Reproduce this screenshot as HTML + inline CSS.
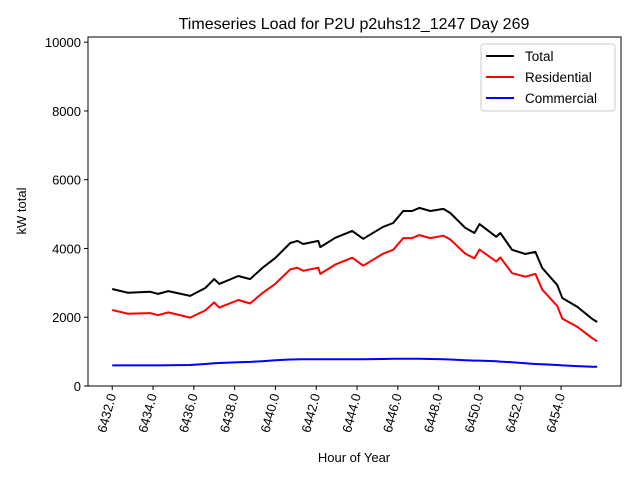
<!DOCTYPE html>
<html><head><meta charset="utf-8"><style>
body{margin:0;background:#fff;}
svg{display:block;font-family:"Liberation Sans","DejaVu Sans",sans-serif;}
</style></head><body>
<svg id="chart" width="640" height="480" viewBox="0 0 640 480">
<rect width="640" height="480" fill="#fff"/>
<text x="354" y="29" font-size="16" text-anchor="middle">Timeseries Load for P2U p2uhs12_1247  Day 269</text>
<g id="grid"></g>
<g id="series"></g>
<rect x="88" y="37" width="533" height="349" fill="none" stroke="#000" stroke-width="1"/>
<text x="354" y="462" font-size="13" text-anchor="middle">Hour of Year</text>
<text transform="translate(26,211) rotate(-90)" font-size="13" text-anchor="middle">kW total</text>
<g>
<rect x="481" y="44" width="134" height="67" rx="3" fill="#fff" stroke="#ccc"/>
<line x1="486" y1="56" x2="514" y2="56" stroke="#000" stroke-width="2"/>
<text x="525" y="61" font-size="13.5">Total</text>
<line x1="486" y1="77" x2="514" y2="77" stroke="#f00" stroke-width="2"/>
<text x="525" y="82" font-size="13.5">Residential</text>
<line x1="486" y1="98" x2="514" y2="98" stroke="#00f" stroke-width="2"/>
<text x="525" y="103" font-size="13.5">Commercial</text>
</g>
</svg>
<script>
const hours=[6432.0,6432.78,6433.86,6434.25,6434.75,6435.82,6436.56,6437.0,6437.25,6438.18,6438.76,6439.35,6439.99,6440.73,6441.07,6441.36,6442.1,6442.2,6442.93,6443.76,6444.3,6445.28,6445.77,6446.26,6446.7,6447.05,6447.59,6448.23,6448.57,6449.3,6449.75,6450.0,6450.82,6451.02,6451.6,6452.25,6452.74,6453.08,6453.81,6454.06,6454.8,6455.53,6455.77];
const totalKW=[2820,2710,2740,2680,2760,2620,2850,3110,2970,3200,3110,3430,3720,4160,4220,4130,4220,4040,4310,4510,4280,4630,4740,5090,5090,5180,5090,5150,5030,4600,4450,4710,4340,4450,3960,3840,3900,3430,2940,2560,2300,1950,1860];
const residentialKW=[2210,2100,2120,2060,2140,1990,2200,2430,2280,2500,2400,2700,2970,3390,3440,3350,3440,3260,3530,3730,3500,3850,3960,4300,4300,4390,4300,4370,4260,3850,3710,3970,3620,3740,3280,3180,3260,2800,2330,1960,1720,1390,1300];
const commercialKW=[600,600,600,600,605,610,640,660,670,690,700,720,750,770,775,780,780,780,780,780,780,785,790,790,790,790,785,780,770,750,740,740,720,710,690,660,640,630,610,600,580,560,560];
const xTicks=[6432,6434,6436,6438,6440,6442,6444,6446,6448,6450,6452,6454];
const yTicks=[0,2000,4000,6000,8000,10000];
const NS="http://www.w3.org/2000/svg";
const L=88,R=621,T=37,B=386;
const xMin=6430.8125,xMax=6456.9375,yMin=0,yMax=10150;
function xs(h){return L+(h-xMin)/(xMax-xMin)*(R-L);}
function ys(v){return B-(v-yMin)/(yMax-yMin)*(B-T);}
const grid=document.getElementById('grid');
xTicks.forEach(t=>{
 const x=xs(t);
 const l=document.createElementNS(NS,'line');
 l.setAttribute('x1',x);l.setAttribute('x2',x);l.setAttribute('y1',B);l.setAttribute('y2',B+4);l.setAttribute('stroke','#000');
 
 
 grid.appendChild(l);
 const tx=document.createElementNS(NS,'text');
 tx.setAttribute('transform','translate('+(x+4)+','+(B+9)+') rotate(-75)');
 tx.setAttribute('text-anchor','end');tx.setAttribute('font-size','13');
 tx.textContent=t.toFixed(1);
 
 
 grid.appendChild(tx);
});
yTicks.forEach(t=>{
 const y=ys(t);
 const l=document.createElementNS(NS,'line');
 l.setAttribute('x1',L-4);l.setAttribute('x2',L);l.setAttribute('y1',y);l.setAttribute('y2',y);l.setAttribute('stroke','#000');
 
 
 grid.appendChild(l);
 const tx=document.createElementNS(NS,'text');
 tx.setAttribute('x',L-7);tx.setAttribute('y',y+5);tx.setAttribute('text-anchor','end');tx.setAttribute('font-size','13');
 tx.textContent=t;
 
 
 grid.appendChild(tx);
});
const series=document.getElementById('series');
function draw(vals,color,name){
 const p=document.createElementNS(NS,'polyline');
 p.setAttribute('points',vals.map((v,i)=>xs(hours[i]).toFixed(1)+','+ys(v).toFixed(1)).join(' '));
 p.setAttribute('fill','none');p.setAttribute('stroke',color);p.setAttribute('stroke-width','2');p.setAttribute('stroke-linejoin','round');
 
 
 series.appendChild(p);
}
draw(totalKW,'#000','total-line');
draw(residentialKW,'#f00','residential-line');
draw(commercialKW,'#00f','commercial-line');
</script>
</body></html>
